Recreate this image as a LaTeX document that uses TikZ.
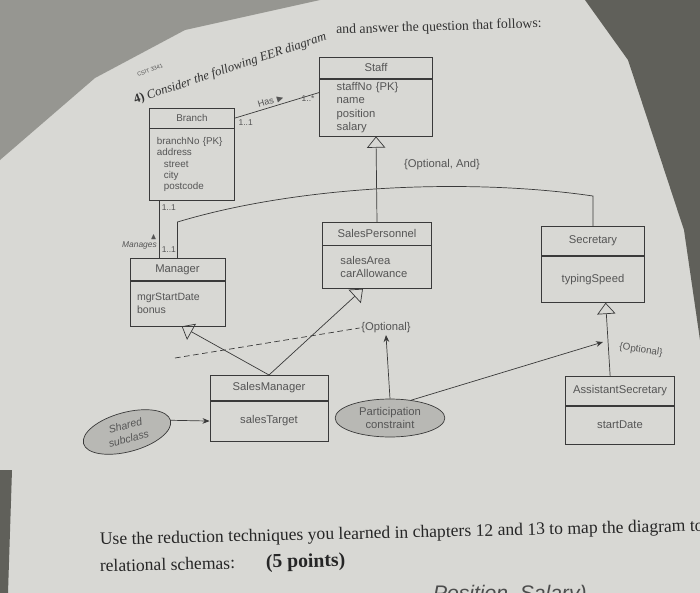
\documentclass[tikz,border=0pt]{standalone}
\usepackage{amssymb}
\usepackage{fontspec}
\setmainfont{Liberation Serif}
\setsansfont{Liberation Sans}
\usetikzlibrary{positioning,shapes.geometric,arrows.meta}

\definecolor{pagegray}{RGB}{216,216,212}
\definecolor{deskgray}{RGB}{150,150,145}
\definecolor{darkdesk}{RGB}{96,96,90}
\definecolor{ink}{RGB}{58,58,58}
\definecolor{txt}{RGB}{85,85,85}
\definecolor{ovalgray}{RGB}{184,184,180}

\begin{document}
\begin{tikzpicture}[x=0.025cm, y=-0.025cm, line width=0.5pt,
    clshead/.style={draw=ink, text=txt, font=\sffamily\fontsize{8}{9.5}\selectfont, inner sep=0pt, anchor=north},
    clsbody/.style={draw=ink, text=txt, font=\sffamily\fontsize{8}{9.5}\selectfont, inner ysep=0pt},
    oval/.style={ellipse, draw=ink, fill=ovalgray, text=txt, inner sep=0pt, align=center, font=\sffamily\fontsize{8}{9}\selectfont},
    mult/.style={text=txt, font=\sffamily\fontsize{6}{7}\selectfont, inner sep=1.5pt},
    constr/.style={text=txt, font=\sffamily\fontsize{8}{9}\selectfont, inner sep=1pt},
    isa/.style={draw=ink, -{Triangle[open, length=8pt, width=13pt]}},
    pointer/.style={draw=ink, -{Stealth[length=5pt, width=4pt]}}]
  \useasboundingbox (0,0) rectangle (700,593);
  % Page and desk
  \fill[pagegray] (0,0) rectangle (700,593);
  \fill[deskgray] (0,0) -- (320,0) -- (185,30) -- (95,78) -- (0,160) -- cycle;
  \fill[darkdesk] (585,0) -- (700,0) -- (700,340) -- (684,230) -- (628,60) -- cycle;
  \fill[darkdesk] (0,470) -- (12,470) -- (8,593) -- (0,593) -- cycle;

  % Question text
  \node (code) at (150,70) [rotate=20, text=txt, font=\sffamily\fontsize{4}{5}\selectfont, inner sep=0pt] {CSIT 3341};
  \node (questionL) at (135,104) [anchor=base west, rotate=18.5, text=black!80, inner sep=0pt, font=\fontsize{9}{11}\selectfont]
    {\textbf{4)} \textit{Consider the following EER diagram}};
  \node (questionR) at (336,34) [anchor=base west, rotate=1.8, text=black!80, inner sep=0pt, font=\fontsize{9.8}{11}\selectfont]
    {and answer the question that follows:};

  % Classes
  \node (staffT) at (376,57) [clshead, minimum width=80pt, minimum height=15pt] {Staff};
  \node (staffA) [clsbody, below=0pt of staffT, text width=56pt, inner xsep=12pt, minimum height=40.5pt, align=left]
    {staffNo \{PK\}\\name\\position\\salary};
  \node (branchT) at (192,108) [clshead, minimum width=60pt, minimum height=14pt, font=\sffamily\fontsize{7}{8}\selectfont] {Branch};
  \node (branchA) [clsbody, below=0pt of branchT, text width=50pt, inner xsep=5pt, minimum height=51pt, align=left, font=\sffamily\fontsize{7}{8}\selectfont]
    {branchNo \{PK\}\\address\\\hspace*{5pt}street\\\hspace*{5pt}city\\\hspace*{5pt}postcode};
  \node (mgrT) at (177.5,258) [clshead, minimum width=67.5pt, minimum height=15.6pt] {Manager};
  \node (mgrA) [clsbody, below=0pt of mgrT, text width=57.5pt, inner xsep=5pt, minimum height=32pt, align=left, font=\sffamily\fontsize{7.5}{9}\selectfont]
    {mgrStartDate\\bonus};
  \node (spT) at (377,222) [clshead, minimum width=78pt, minimum height=16pt] {SalesPersonnel};
  \node (spA) [clsbody, below=0pt of spT, text width=52pt, inner xsep=13pt, minimum height=30.5pt, align=left]
    {salesArea\\carAllowance};
  \node (secT) at (593,226) [clshead, minimum width=73pt, minimum height=20.6pt] {Secretary};
  \node (secA) [clsbody, below=0pt of secT, text width=65pt, inner xsep=4pt, minimum height=33pt, align=center] {typingSpeed};
  \node (smT) at (269,375) [clshead, minimum width=84pt, minimum height=17.8pt] {SalesManager};
  \node (smA) [clsbody, below=0pt of smT, text width=76pt, inner xsep=4pt, minimum height=28.4pt, align=center] {salesTarget};
  \node (asT) at (620,376) [clshead, minimum width=78pt, minimum height=20.6pt] {AssistantSecretary};
  \node (asA) [clsbody, below=0pt of asT, text width=70pt, inner xsep=4pt, minimum height=27pt, align=center] {startDate};

  % Notes
  \node (shared) at (127,432) [oval, rotate=15, minimum width=64pt, minimum height=28pt, font=\sffamily\itshape\fontsize{7.5}{9.5}\selectfont] {Shared\\subclass};
  \node (pc) at (390,418) [oval, minimum width=78pt, minimum height=27pt] {Participation\\constraint};
  \node (optAnd) at (442,165) [constr] {\{Optional, And\}};
  \node (optA) at (386,328) [constr] {\{Optional\}};
  \node (optB) at (641,350) [constr, rotate=-8, font=\sffamily\fontsize{7}{8}\selectfont] {\{Optional\}};
  \coordinate (dashL) at (175,358);
  \coordinate (pcTip) at (603,342);
  \coordinate (barL) at (177.5,222);
  \coordinate (barR) at (593,196);

  % Associations
  \draw[ink] (branchT.east) -- node[mult, sloped, above, pos=0.45, font=\sffamily\fontsize{6.5}{7}\selectfont] {Has $\blacktriangleright$}
    node[mult, below right, pos=0.02] {1..1} node[mult, below left, pos=0.97] {1..*} (staffA.165);
  \draw[ink] ([xshift=7pt]branchA.south west) -- node[mult, right, pos=0.12] {1..1} node[mult, right, pos=0.85] {1..1}
    node[mult, left, pos=0.72, align=right, font=\sffamily\itshape\fontsize{6}{6}\selectfont] {$\blacktriangle$\\Manages}
    ([xshift=7pt]branchA.south west |- mgrT.north);

  % Specialisations
  \draw[ink] (mgrT.north) -- (barL) .. controls (300,185) and (470,178) .. (barR) -- (secT.north);
  \draw[isa] (spT.north) -- (staffA.south);
  \draw[isa] (smT.north) -- ([xshift=3pt]mgrA.south);
  \draw[isa] (smT.north) -- ([xshift=-10pt]spA.south);
  \draw[isa] ([xshift=-7pt]asT.north) -- ([xshift=9pt]secA.south);
  \draw[ink, dashed, dash pattern=on 4pt off 2.5pt] (dashL) -- (optA.west);

  % Pointers
  \draw[pointer] (shared.east) -- (smA.west);
  \draw[pointer] (pc.north) -- (optA.south);
  \draw[pointer] (pc.40) -- (pcTip);

  % Task text
  \node (task1) at (95,545) [anchor=base west, rotate=1.3, text=black!85, font=\fontsize{12.5}{14}\selectfont]
    {Use the reduction techniques you learned in chapters 12 and 13 to map the diagram to};
  \node (task2) at (95,572) [anchor=base west, rotate=1.3, text=black!85, font=\fontsize{12.5}{14}\selectfont]
    {relational schemas:\hspace{22pt}\textbf{\fontsize{14}{16}\selectfont(5 points)}};
  \node (hand) at (428,600) [anchor=base west, text=black!70, font=\sffamily\itshape\fontsize{15}{16}\selectfont] {Position, Salary)};
\end{tikzpicture}
\end{document}
